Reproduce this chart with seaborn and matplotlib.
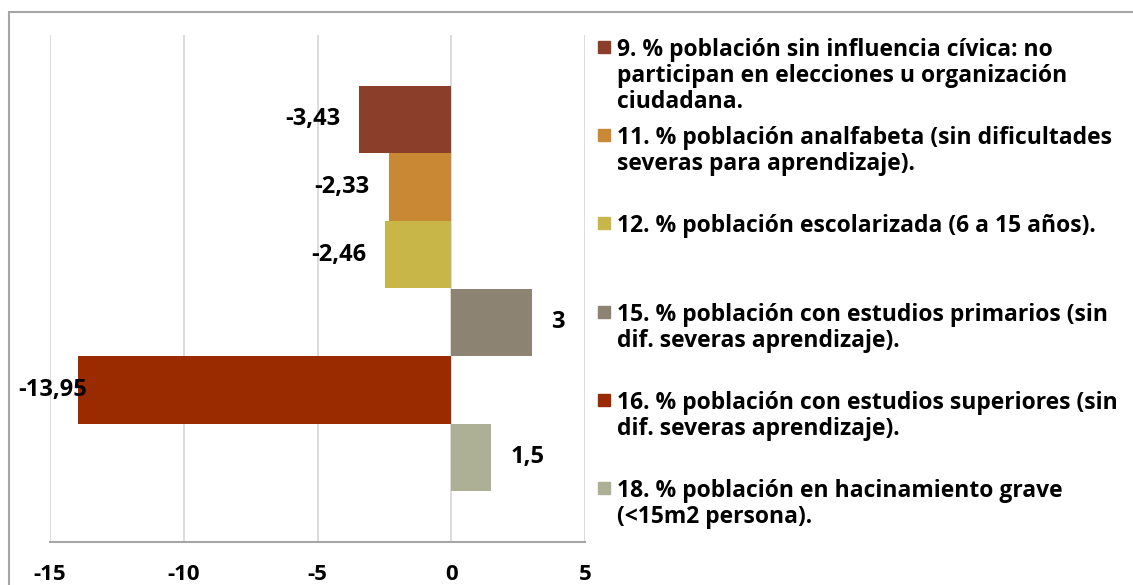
import matplotlib
matplotlib.use('Agg')
import matplotlib.pyplot as plt
from matplotlib.patches import Rectangle
import seaborn as sns
import pandas as pd

# Series shown in the chart (one bar per indicator)
series = [
    '9. % población sin influencia cívica: no\nparticipan en elecciones u organización\nciudadana.',
    '11. % población analfabeta (sin dificultades\nseveras para aprendizaje).',
    '12. % población escolarizada (6 a 15 años).',
    '15. % población con estudios primarios (sin\ndif. severas aprendizaje).',
    '16. % población con estudios superiores (sin\ndif. severas aprendizaje).',
    '18. % población en hacinamiento grave\n(<15m2 persona).',
]
values = [-3.43, -2.33, -2.46, 3, -13.95, 1.5]
colors = ['#8B3E2A', '#C98833', '#C8B748', '#8C8372', '#9A2A00', '#ADB095']
x_ticks = [-15, -10, -5, 0, 5]

W, H = 1133, 585

sns.set_theme(style='white')
plt.rcParams['font.family'] = ['Open Sans', 'DejaVu Sans']
plt.rcParams['font.weight'] = 'bold'
plt.rcParams['axes.unicode_minus'] = False

df = pd.DataFrame({'serie': series, 'valor': values, 'grupo': ''})

fig = plt.figure(figsize=(W / 100, H / 100), dpi=100)
ax = fig.add_axes([50 / W, 1 - 542 / H, (585 - 50) / W, (542 - 35) / H])

sns.barplot(data=df, x='valor', y='grupo', hue='serie', hue_order=series,
            palette=colors, orient='h', width=0.8, saturation=1,
            legend=False, linewidth=0, ax=ax)

ax.set_xlim(x_ticks[0], x_ticks[-1])
ax.set_ylim(0.5, -0.5)
ax.set_xticks(x_ticks)
ax.set_xticklabels([str(t) for t in x_ticks], fontsize=16, fontweight='bold')
ax.set_yticks([])
ax.set_xlabel('')
ax.set_ylabel('')
ax.grid(axis='x', color='#D9D9D9', linewidth=1.3)
ax.set_axisbelow(True)
for s in ['top', 'right', 'left']:
    ax.spines[s].set_visible(False)
ax.spines['bottom'].set_color('#A6A6A6')
ax.spines['bottom'].set_linewidth(1.5)
ax.tick_params(axis='x', direction='out', length=6, width=1.3,
               color='#A6A6A6', pad=10, labelcolor='black')

# data labels, outside end
labels = []
for container in ax.containers:
    for bar in container:
        w = bar.get_width()
        end = bar.get_x() + w
        yc = bar.get_y() + bar.get_height() / 2
        txt = f'{w:g}'.replace('.', ',')
        ann = ax.annotate(txt, xy=(end, yc), xytext=(14 if w > 0 else -14, 0),
                          textcoords='offset points', va='center',
                          ha='left' if w > 0 else 'right',
                          fontsize=17, fontweight='bold', color='black',
                          annotation_clip=False)
        labels.append(ann)

# keep labels inside the chart frame (like Excel does)
fig.canvas.draw()
renderer = fig.canvas.get_renderer()
for ann in labels:
    bb = ann.get_window_extent(renderer)
    if bb.x0 < 18:
        dx, dy = ann.xyann
        ann.xyann = (dx + (18 - bb.x0) * 72 / 100, dy)

# chart frame
fig.patches.append(Rectangle((9 / W, -0.5), 2, 1 - 12 / H + 0.5,
                             transform=fig.transFigure, fill=False,
                             edgecolor='#A6A6A6', linewidth=1.5))

# legend, one slot per series
step = 88.2
for i, (lab, col) in enumerate(zip(series, colors)):
    yc = 47 + step * i
    fig.patches.append(Rectangle((598 / W, 1 - (yc + 6) / H), 12 / W, 12 / H,
                                 transform=fig.transFigure, color=col))
    fig.text(617 / W, 1 - (yc - 9) / H, lab, va='top', ha='left',
             fontsize=16.5, fontweight='bold', color='black', linespacing=1.12)

fig.savefig('out.png', dpi=100)
